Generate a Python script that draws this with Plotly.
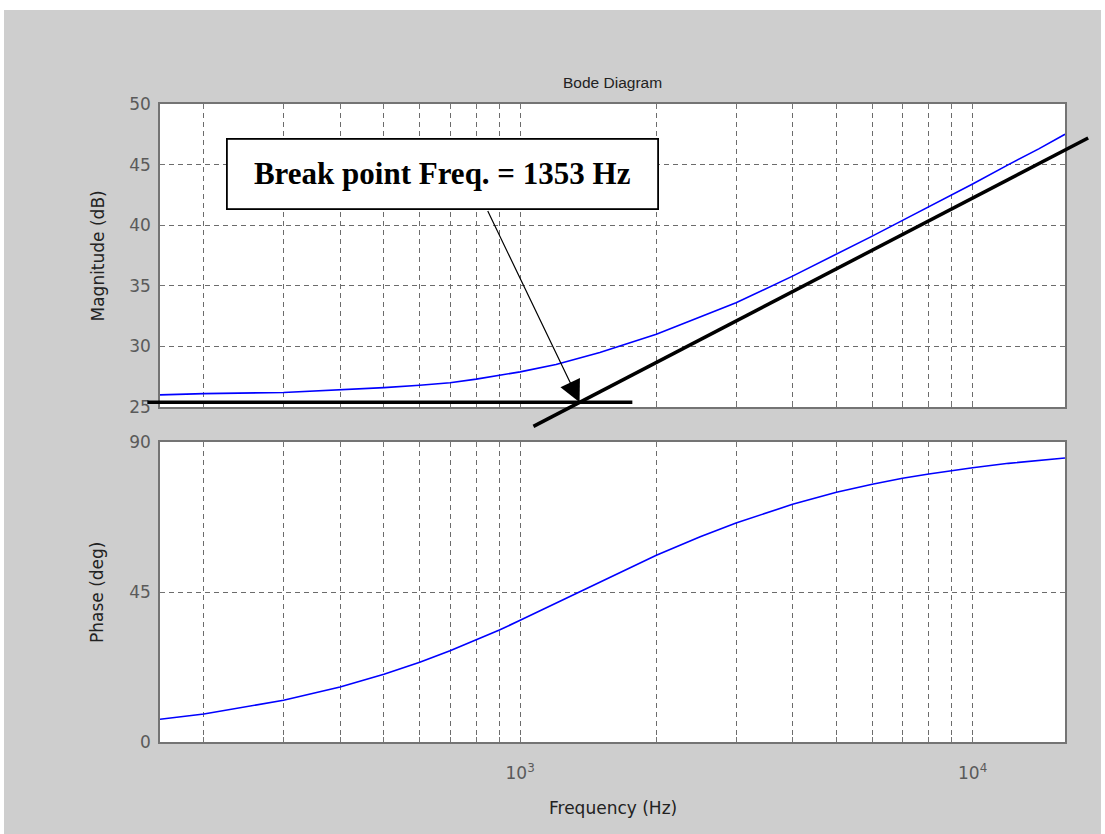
import math
import plotly.graph_objects as go

# ---- data -------------------------------------------------------------
freq_hz = [160, 200, 300, 400, 500, 600, 700, 800, 900, 1000, 1200, 1500,
           2000, 2500, 3000, 4000, 5000, 6000, 7000, 8000, 10000, 12000,
           14000, 16000]
magnitude_db = [26.0, 26.1, 26.2, 26.4, 26.6, 26.8, 27.0, 27.3, 27.6, 27.9,
                28.5, 29.5, 31.0, 32.4, 33.6, 35.8, 37.6, 39.1, 40.4, 41.5,
                43.4, 45.0, 46.3, 47.5]
phase_deg = [6.8, 8.4, 12.5, 16.5, 20.3, 23.9, 27.4, 30.6, 33.6, 36.5,
             41.6, 48.0, 56.0, 61.6, 65.7, 71.3, 74.9, 77.3, 79.1, 80.4,
             82.3, 83.6, 84.5, 85.2]

# straight-line asymptotes of the magnitude plot
low_asym_freq = [150, 1770]
low_asym_db = [25.4, 25.4]
high_asym_freq = [1070, 18000]
high_asym_db = [23.4, 47.2]

break_freq_hz = 1353
break_level_db = 25.4
break_label = "Break point Freq. = 1353 Hz"

decade_ticks = [1000, 10000]
decade_labels = ["10<sup>3</sup>", "10<sup>4</sup>"]
minor_grid_freqs = [200, 300, 400, 500, 600, 700, 800, 900,
                    2000, 3000, 4000, 5000, 6000, 7000, 8000, 9000]
mag_ticks = [25, 30, 35, 40, 45, 50]
phase_ticks = [0, 45, 90]

# ---- layout geometry (pixels) ----------------------------------------
W, H = 1105, 834
X_LEFT, X_RIGHT = 160, 1065
MAG_TOP, MAG_BOT = 104, 407
PH_TOP, PH_BOT = 442, 742
F_MIN, F_MAX = 160, 16000
MAG_RANGE = [25, 50]
PH_RANGE = [0, 90]


def px_x(p):
    return p / W


def px_y(p):
    return 1 - p / H


x_dom = [px_x(X_LEFT), px_x(X_RIGHT)]
mag_dom = [px_y(MAG_BOT), px_y(MAG_TOP)]
ph_dom = [px_y(PH_BOT), px_y(PH_TOP)]

x_range = [math.log10(F_MIN), math.log10(F_MAX)]

# full-figure overlay axes sharing the magnitude scale, so the asymptote
# lines may run past the edges of the magnitude plot
px_per_dec = (X_RIGHT - X_LEFT) / (x_range[1] - x_range[0])
ov_x_range = [x_range[0] - X_LEFT / px_per_dec,
              x_range[1] + (W - X_RIGHT) / px_per_dec]
px_per_db = (MAG_BOT - MAG_TOP) / (MAG_RANGE[1] - MAG_RANGE[0])
ov_y_range = [MAG_RANGE[0] - (H - MAG_BOT) / px_per_db,
              MAG_RANGE[1] + MAG_TOP / px_per_db]

FONT = "DejaVu Sans"
GRID = "#6c6c6c"
AXLINE = "#747474"
TICKFONT = dict(family=FONT, size=17, color="#5a5a5a")
DASH = "5px,4px"

fig = go.Figure()

fig.add_trace(go.Scatter(x=freq_hz, y=magnitude_db, mode="lines",
                         line=dict(color="#0000ff", width=1.6),
                         xaxis="x", yaxis="y"))
fig.add_trace(go.Scatter(x=freq_hz, y=phase_deg, mode="lines",
                         line=dict(color="#0000ff", width=1.6),
                         xaxis="x2", yaxis="y2"))
fig.add_trace(go.Scatter(x=low_asym_freq, y=low_asym_db, mode="lines",
                         line=dict(color="black", width=3.5),
                         xaxis="x3", yaxis="y3"))
fig.add_trace(go.Scatter(x=high_asym_freq, y=high_asym_db, mode="lines",
                         line=dict(color="black", width=3.5),
                         xaxis="x3", yaxis="y3"))

common_x = dict(type="log", range=x_range, domain=x_dom,
                tickmode="array", tickvals=decade_ticks,
                showgrid=True, gridcolor=GRID, gridwidth=1, griddash=DASH,
                minor=dict(tickmode="array", tickvals=minor_grid_freqs,
                           showgrid=True, gridcolor=GRID, gridwidth=1,
                           griddash=DASH, ticks="inside", ticklen=5,
                           tickcolor=AXLINE),
                showline=True, linecolor=AXLINE, linewidth=1.5,
                mirror="ticks", ticks="inside", ticklen=5,
                tickcolor=AXLINE, tickfont=TICKFONT, zeroline=False,
                automargin=False)

common_y = dict(showgrid=True, gridcolor=GRID, gridwidth=1, griddash=DASH,
                showline=True, linecolor=AXLINE, linewidth=1.5,
                mirror="ticks", ticks="inside", ticklen=5,
                tickcolor=AXLINE, tickfont=TICKFONT, zeroline=False,
                ticklabelstandoff=4, automargin=False)

fig.update_layout(
    width=W, height=H,
    margin=dict(l=0, r=0, t=0, b=0, pad=0, autoexpand=False),
    paper_bgcolor="white",
    plot_bgcolor="rgba(0,0,0,0)",
    showlegend=False,
    xaxis=dict(common_x, anchor="y", showticklabels=False),
    yaxis=dict(common_y, anchor="x", domain=mag_dom, range=MAG_RANGE,
               tickvals=mag_ticks),
    xaxis2=dict(common_x, anchor="y2", ticktext=decade_labels,
                ticklabelstandoff=15),
    yaxis2=dict(common_y, anchor="x2", domain=ph_dom, range=PH_RANGE,
                tickvals=phase_ticks),
    xaxis3=dict(type="log", range=ov_x_range, domain=[0, 1],
                anchor="y3", visible=False, automargin=False),
    yaxis3=dict(range=ov_y_range, domain=[0, 1], anchor="x3",
                visible=False, automargin=False),
)

# figure window colour and white plot panels
fig.add_shape(type="rect", xref="paper", yref="paper",
              x0=px_x(4), x1=px_x(1101), y0=px_y(834), y1=px_y(10),
              fillcolor="#cecece", line=dict(width=0), layer="below")
for xr, yr in (("x domain", "y domain"), ("x2 domain", "y2 domain")):
    fig.add_shape(type="rect", xref=xr, yref=yr, x0=0, x1=1, y0=0, y1=1,
                  fillcolor="white", line=dict(width=0), layer="below")


def label(text, x, y, size, family=FONT, angle=0):
    fig.add_annotation(text=text, xref="paper", yref="paper", x=x, y=y,
                       xanchor="center", yanchor="middle",
                       textangle=angle, showarrow=False,
                       font=dict(family=family, size=size, color="#222"))


label("Bode Diagram", (x_dom[0] + x_dom[1]) / 2, px_y(82), 15.5,
      family="Liberation Sans")
label("Magnitude (dB)", px_x(97), (mag_dom[0] + mag_dom[1]) / 2, 17, angle=-90)
label("Phase (deg)", px_x(97), (ph_dom[0] + ph_dom[1]) / 2, 17, angle=-90)
label("Frequency (Hz)", (x_dom[0] + x_dom[1]) / 2, px_y(808), 17)

# break-point callout
fig.add_annotation(text="<b>" + break_label + "</b>", xref="paper", yref="paper",
                   x=px_x(442.5), y=px_y(174), xanchor="center",
                   yanchor="middle", showarrow=False,
                   width=429, height=68, borderpad=0,
                   bgcolor="white", bordercolor="black", borderwidth=1.8,
                   font=dict(family="Liberation Serif", size=31, color="black"))
fig.add_annotation(text="", xref="x", yref="y",
                   x=math.log10(break_freq_hz), y=break_level_db,
                   axref="x", ayref="y",
                   ax=math.log10(845), ay=41.3,
                   showarrow=True, arrowhead=2, arrowsize=3.6, arrowwidth=1.2,
                   arrowcolor="black", standoff=0)

fig.write_html("out.html")
